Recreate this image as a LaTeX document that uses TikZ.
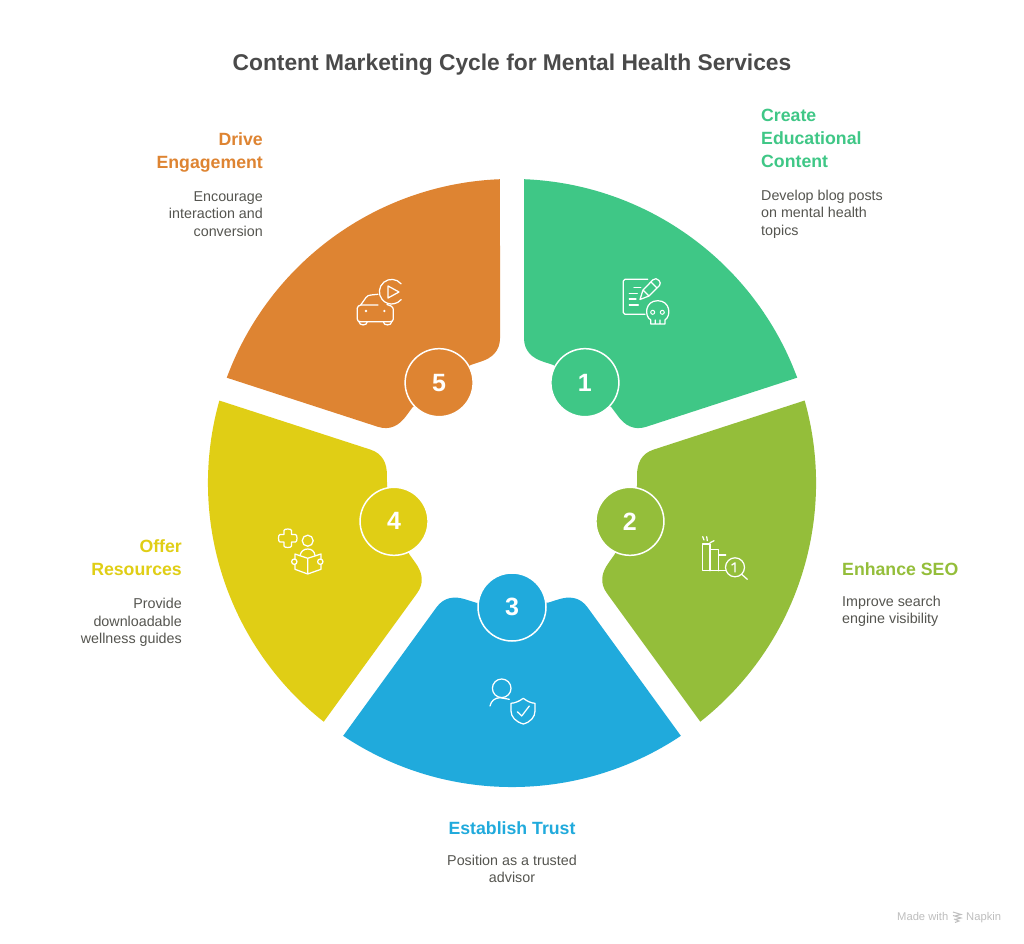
\documentclass[tikz,border=0pt]{standalone}
\usepackage{fontspec}
\setmainfont{Liberation Sans}
\definecolor{cgreen}{RGB}{63,199,134}
\definecolor{colive}{RGB}{148,190,58}
\definecolor{cblue}{RGB}{32,170,220}
\definecolor{cyellow}{RGB}{224,206,21}
\definecolor{corange}{RGB}{222,132,50}
\definecolor{ctitle}{RGB}{74,74,74}
\definecolor{cbody}{RGB}{85,85,80}
\definecolor{cfoot}{RGB}{190,190,190}
\tikzset{
  x=1pt,y=1pt,
  px/.style={shift={(0,943)},y=-1pt},
  icon/.style={draw=white,line width=1.25pt,line cap=round,line join=round},
  numdot/.style={circle,minimum size=68pt,inner sep=0pt,draw=white,line width=1.5pt,text=white,font=\fontsize{25}{25}\selectfont\bfseries},
  heading/.style={inner sep=0pt,font=\fontsize{17.7}{23}\selectfont\bfseries},
  bodytext/.style={inner sep=0pt,text=cbody,font=\fontsize{14.3}{17.5}\selectfont},
}
\begin{document}
\begin{tikzpicture}
\useasboundingbox (0,0) rectangle (1024,943);
\fill[white] (0,0) rectangle (1024,943);
% wedges and number circles
\foreach \n/\col/\rot in {1/cgreen/0,2/colive/-72,3/cblue/-144,4/cyellow/-216,5/corange/-288}{
  \begin{scope}[shift={(512,460)},rotate=\rot]
    \fill[\col] (12,303.8) arc[start angle=87.74,end angle=20.26,radius=304pt]
      -- (134.2,56.2)
      .. controls (121.8,52.2) and (112.7,57.6) .. (105.7,67.3)
      -- (99.4,75.8) -- (41.3,118) -- (31.3,121.3)
      .. controls (20,125) and (12,132) .. (12,145) -- cycle;
    \node[numdot,fill=\col] (c\n) at (54:124) {\n};
  \end{scope}
}
% title
\node[inner sep=0pt,text=ctitle,font=\fontsize{22.8}{28}\selectfont\bfseries] (title) at (512,878.5) {Content Marketing Cycle for Mental Health Services};
% play button of icon 5
\draw[icon] (401.1,659.2) arc[start angle=40,end angle=320,radius=12.3pt];
% labels
\begin{scope}[px]
\node[heading,text=cgreen,align=left,anchor=west] (h1) at (761,138) {Create\\Educational\\Content};
\node[bodytext,align=left,anchor=west] (b1) at (761,214) {Develop blog posts\\on mental health\\topics};
\node[heading,text=colive,align=left,anchor=west] (h2) at (842,569) {Enhance SEO};
\node[bodytext,align=left,anchor=west] (b2) at (842,611.5) {Improve search\\engine visibility};
\node[heading,text=cblue,align=center] (h3) at (512,828) {Establish Trust};
\node[bodytext,align=center] (b3) at (512,869) {Position as a trusted\\advisor};
\node[heading,text=cyellow,align=right,anchor=east] (h4) at (182,558) {Offer\\Resources};
\node[bodytext,align=right,anchor=east] (b4) at (182,622.5) {Provide\\downloadable\\wellness guides};
\node[heading,text=corange,align=right,anchor=east] (h5) at (263,152) {Drive\\Engagement};
\node[bodytext,align=right,anchor=east] (b5) at (263,214) {Encourage\\interaction and\\conversion};
% footer
\node[inner sep=0pt,anchor=base west,text=cfoot,font=\fontsize{11.2}{13}\selectfont] (f1) at (897,920) {Made with};
\node[inner sep=0pt,anchor=base west,text=cfoot,font=\fontsize{11.2}{13}\selectfont] (f2) at (966,920) {Napkin};
\draw[cfoot,line width=1pt] (953,912)--(961,914.5)--(955,916) (953,915.5)--(961,918)--(955,919.5) (954,919)--(959,921)--(955,922.5);
% icon 1: document, pencil, skull
\draw[icon] (647.7,279.3)--(625,279.3) .. controls (624,279.3) and (623.3,280) .. (623.3,281) --(623.3,312.6) .. controls (623.3,313.6) and (624,314.3) .. (625,314.3)--(645,314.3);
\draw[icon] (634,287.3)--(640.7,287.3) (629.3,293.3)--(637.3,293.3) (629.3,299)--(636,299) (629.3,305)--(638.3,305);
\draw[icon] (640,299.5)--(643,290)--(653,279.8) .. controls (655,278) and (657,278.5) .. (659,280.5) .. controls (660.5,282) and (660.5,284) .. (659.5,285.5)--(649,296)--cycle (643,290)--(649,296) (651,282)--(657,288);
\draw[icon] (650.7,324)--(650.7,320) .. controls (644,316) and (645,300.7) .. (657.7,300.7) .. controls (670.4,300.7) and (671.4,316) .. (665,320)--(665,324)--cycle (655.3,320)--(655.3,324) (660,320)--(660,324);
\draw[icon,line width=1pt] (652.7,312.3) circle[radius=2pt] (662.3,312.3) circle[radius=2pt];
% icon 2: bars and magnifier
\draw[icon] (725.5,570.7)--(702.7,570.7)--(702.7,544)--(710,544)--(710,570.7) (710,549.3)--(718.7,549.3)--(718.7,570.7) (718.7,555)--(725.7,555);
\draw[icon] (702.7,536.7)--(704,540) (706.7,536.7)--(707.3,540.7) (710,542.7)--(714,540.7);
\draw[icon] (735,567.3) circle[radius=9.5pt] (741.7,574.3)--(747.3,579.3);
\draw[icon] (731.8,565)--(735,562.8)--(735,572);
% icon 3: person and shield
\draw[icon] (501.7,688.3) circle[radius=9.3pt];
\draw[icon] (490,706) .. controls (491,701) and (495,697.7) .. (500,697.7) -- (509.3,699.3);
\draw[icon] (523.3,698.3) .. controls (519,701.5) and (515,703) .. (511,703.3) -- (511,711) .. controls (511,717) and (516,722) .. (523.3,724) .. controls (530.6,722) and (535,717) .. (535,711) -- (535,703.3) .. controls (531,703) and (527.5,701.5) .. (523.3,698.3) -- cycle;
\draw[icon] (517.3,711.7)--(521.7,716)--(529.3,706);
% icon 4: plus, person reading
\draw[icon] (284,530.5) .. controls (284,528.5) and (291.5,528.5) .. (291.5,530.5) -- (291.5,534.5) -- (295.5,534.5) .. controls (297.5,534.5) and (297.5,542) .. (295.5,542) -- (291.5,542) -- (291.5,546) .. controls (291.5,548) and (284,548) .. (284,546) -- (284,542) -- (280,542) .. controls (278,542) and (278,534.5) .. (280,534.5) -- (284,534.5) -- cycle;
\draw[icon] (307.7,540.7) circle[radius=5.5pt];
\draw[icon] (300,555.5) .. controls (301,551) and (304,549) .. (307.7,549) .. controls (311.4,549) and (314.4,551) .. (315,555.5);
\draw[icon] (307.7,558.3)--(295,554)--(295,569.3)--(307.7,574)--(321,569.3)--(321,554)--cycle (307.7,558.3)--(307.7,574);
\draw[icon,fill=cyellow] (294.3,561.7) circle[radius=2.7pt] (320.3,561.7) circle[radius=2.7pt];
% icon 5: car and play button
\draw[icon] (357.3,308) .. controls (357.3,306.5) and (359,305.5) .. (360.7,305) -- (366,297.5) .. controls (367,296) and (369,295) .. (371,295) -- (378,294.3);
\draw[icon] (387,304.5) -- (391,306) .. controls (392.5,307) and (393.3,308) .. (393.3,309.5) -- (393.3,319) .. controls (393.3,321) and (392,321.7) .. (390,321.7) -- (360.5,321.7) .. controls (358.5,321.7) and (357.3,321) .. (357.3,319) -- (357.3,308) (360.7,305) -- (378,305);
\draw[icon] (359,321.7) .. controls (359,326) and (367.3,326) .. (367.3,321.7) (383.3,321.7) .. controls (383.3,326) and (391.7,326) .. (391.7,321.7);
\fill[white] (366,311) circle[radius=1.3pt] (384.3,311) circle[radius=1.3pt];
\draw[icon] (388,286)--(388,298)--(399,292)--cycle;
\end{scope}
\end{tikzpicture}
\end{document}
